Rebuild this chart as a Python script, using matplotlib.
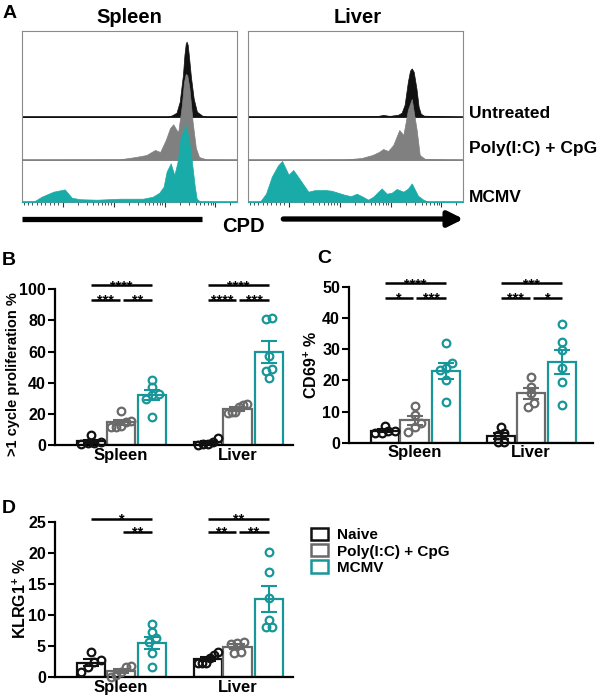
import numpy as np
import matplotlib
matplotlib.use('Agg')
import matplotlib.pyplot as plt
from matplotlib.patches import Patch

plt.rcParams['font.family'] = 'Liberation Sans'
plt.rcParams['font.weight'] = 'bold'
plt.rcParams['mathtext.fontset'] = 'custom'
plt.rcParams['mathtext.rm'] = 'Liberation Sans:bold'
plt.rcParams['mathtext.bf'] = 'Liberation Sans:bold'

W, H = 600, 699

BLACK = '#111111'
GREY = '#6a6a6a'
TEAL = '#17979a'
GREY_FILL = '#808080'
TEAL_FILL = '#19aba8'

groups = ['Naive', 'Poly(I:C) + CpG', 'MCMV']
tissues = ['Spleen', 'Liver']
rows = ['Untreated', 'Poly(I:C) + CpG', 'MCMV']

# ---- panel A: CPD histograms (x = position on CPD axis 0..1, y = cell count)
spl_untr_x = [0, 0.68, 0.70, 0.72, 0.735, 0.75, 0.757, 0.763, 0.767, 0.772, 0.778, 0.787, 0.80,
              0.815, 0.84, 0.86, 1.0]
spl_untr_y = [0, 0, 1.5, 4, 15, 42, 62, 73, 75, 72, 60, 40, 18, 5, 1, 0, 0]
spl_poly_x = [0, 0.45, 0.53, 0.58, 0.62, 0.644, 0.67, 0.69, 0.705, 0.72, 0.728, 0.745,
              0.755, 0.763, 0.77, 0.78, 0.795, 0.81, 0.825, 0.86, 1.0]
spl_poly_y = [0, 0.5, 3, 5, 10, 8, 20, 32, 35.7, 30, 28, 55, 78, 86, 85, 72, 38, 12, 3, 0.5, 0]
spl_mcmv_x = [0, 0.055, 0.093, 0.147, 0.2, 0.233, 0.27, 0.35, 0.457, 0.565, 0.61, 0.64, 0.66,
              0.674, 0.693, 0.71, 0.725, 0.74, 0.763, 0.778, 0.79, 0.805, 0.814, 0.83, 1.0]
spl_mcmv_y = [0, 0, 5, 10, 12.3, 4, 2.5, 2, 3, 3, 5, 9, 15, 30, 38.3, 26.7, 40, 65, 76.7, 62,
              43, 15, 3, 0, 0]

liv_untr_x = [0, 0.60, 0.63, 0.66, 0.70, 0.716, 0.73, 0.745, 0.755, 0.763, 0.772, 0.785, 0.795,
              0.805, 0.82, 1.0]
liv_untr_y = [0, 0.5, 1.8, 0.8, 2, 4, 12, 35, 46, 48.3, 45, 28, 10, 3, 1, 0]
liv_poly_x = [0, 0.45, 0.53, 0.58, 0.61, 0.63, 0.653, 0.677, 0.705, 0.724, 0.745, 0.763,
              0.786, 0.80, 0.825, 1.0]
liv_poly_y = [0, 0.5, 2, 5, 8, 11, 9, 15, 30, 25, 50, 61, 30, 5, 1, 0]
liv_mcmv_x = [0, 0.057, 0.085, 0.112, 0.14, 0.16, 0.19, 0.212, 0.25, 0.282, 0.31, 0.36, 0.39,
              0.42, 0.45, 0.48, 0.507, 0.535, 0.56, 0.584, 0.623, 0.647, 0.67, 0.693, 0.724,
              0.745, 0.763, 0.792, 0.817, 0.84, 1.0]
liv_mcmv_y = [0, 0, 8, 25, 36, 40.7, 27, 31.7, 20, 10, 11.5, 11.7, 11, 9, 7, 5.5, 8, 5, 2, 5,
              13.3, 8, 9, 12.7, 10, 13, 18.3, 6, 2, 0, 0]

# ---- panels B-D: per mouse values, order naive / poly / mcmv
prolif_spleen = [[6.2, 1.8, 1.5, 1.2, 0.8], [21.8, 15.2, 15.0, 11.8, 11.5, 12.2],
                 [41.8, 37.0, 32.8, 32.0, 29.3, 18.2]]
prolif_liver = [[4.7, 0.3, 0.5, 2.1, 0.6], [25.7, 26.2, 24.6, 21.4, 20.3, 21.0],
                [80.9, 81.4, 57.2, 48.6, 47.5, 43.3]]
cd69_spleen = [[5.5, 3.6, 3.0, 3.2, 3.7], [11.8, 8.8, 6.4, 5.1, 3.5],
               [31.8, 25.4, 23.8, 23.3, 20.1, 12.9]]
cd69_liver = [[5.1, 2.5, 3.0, 0.1, 0.3], [21.2, 17.9, 15.8, 12.6, 11.5],
              [38.0, 32.4, 29.7, 23.8, 19.6, 12.1]]
klrg1_spleen = [[4.0, 2.8, 2.4, 1.7, 0.9], [1.8, 1.6, 0.9, 0.4, 0.1],
                [8.6, 7.2, 6.3, 5.6, 3.9, 1.6]]
klrg1_liver = [[4.0, 3.6, 3.1, 2.3, 2.25, 2.3], [5.7, 5.5, 5.35, 3.9, 4.1],
               [20.2, 16.9, 12.7, 9.2, 8.1, 8.1]]

# significance: (group i, group j, label, level)
prolif_sig = [[(0, 1, '***', 0), (1, 2, '**', 0), (0, 2, '****', 1)],
              [(0, 1, '****', 0), (1, 2, '***', 0), (0, 2, '****', 1)]]
cd69_sig = [[(0, 1, '*', 0), (1, 2, '***', 0), (0, 2, '****', 1)],
            [(0, 1, '***', 0), (1, 2, '*', 0), (0, 2, '***', 1)]]
klrg1_sig = [[(1, 2, '**', 0), (0, 2, '*', 1)],
             [(0, 1, '**', 0), (1, 2, '**', 0), (0, 2, '**', 1)]]


def rect(l, t, r, b):
    return [l / W, 1 - b / H, (r - l) / W, (b - t) / H]


def swarm_offsets(vals, thr, step):
    # spread points that sit at about the same height, like a dot plot
    vals = np.asarray(vals)
    order = np.argsort(vals)
    offs = np.zeros(len(vals))
    clusters = []
    cur = [order[0]]
    for a, b in zip(order[:-1], order[1:]):
        if vals[b] - vals[a] < thr:
            cur.append(b)
        else:
            clusters.append(cur)
            cur = [b]
    clusters.append(cur)
    for c in clusters:
        k = len(c)
        if k > 1:
            s = min(step, 0.17 / (k - 1))
            offs[c] = (np.arange(k) - (k - 1) / 2) * s
    return offs


def hist_panel(ax, curves):
    offsets = [85, 41.7, 0]
    fills = [BLACK, GREY_FILL, TEAL_FILL]
    base_cols = [BLACK, '#777777', TEAL_FILL]
    for i, (x, y) in enumerate(curves):
        x = np.asarray(x)
        y = np.asarray(y)
        ax.plot([0, 1], [offsets[i], offsets[i]], color=base_cols[i], lw=1.1, zorder=2 * i + 1)
        ax.fill_between(x, offsets[i], offsets[i] + y, color=fills[i], lw=0.5, zorder=2 * i + 2)
    ax.set_xlim(0, 1)
    ax.set_ylim(0, 171)
    for s in ax.spines.values():
        s.set_color('#8a8a8a')
        s.set_linewidth(0.8)
    ax.set_yticks([])
    dec = [0.19, 0.43, 0.667, 0.9]
    minor = [d + 0.235 * np.log10(m) for d in dec for m in range(2, 10) if d + 0.235 * np.log10(m) < 1]
    lin = list(np.arange(0.01, 0.19, 0.02))
    ax.set_xticks(dec)
    ax.set_xticks(lin + minor, minor=True)
    ax.tick_params(axis='x', which='major', length=3.5, width=0.8, color='#333333', labelbottom=False)
    ax.tick_params(axis='x', which='minor', length=2, width=0.6, color='#333333')


def bar_panel(ax, spleen, liver, sigs, sig_y, ymax, ystep, xmax):
    offs = [-0.255, 0, 0.27]
    cols = [BLACK, GREY, TEAL]
    width = 0.243
    thr = ymax * 0.035
    for gi, tissue in enumerate([spleen, liver]):
        for k, vals in enumerate(tissue):
            xc = gi + offs[k]
            v = np.asarray(vals)
            m = v.mean()
            sem = v.std(ddof=1) / np.sqrt(len(v))
            ax.bar(xc, m, width=width, facecolor='white', edgecolor=cols[k], linewidth=1.6, zorder=2)
            ax.errorbar(xc, m, yerr=sem, color=cols[k], capsize=5.5, elinewidth=1.5,
                        capthick=1.5, zorder=3)
            ax.plot(xc + swarm_offsets(v, thr, 0.055), v, 'o', ms=5.5, mfc='none', mec=cols[k],
                    mew=1.6, zorder=4, clip_on=False)
        for i, j, txt, lev in sigs[gi]:
            x0 = gi + offs[i]
            x1 = gi + offs[j]
            if lev == 0:
                if i == 0:
                    x1 -= 0.01
                else:
                    x0 += 0.015
            y = sig_y[lev]
            ax.plot([x0, x1], [y, y], color='black', lw=1.8, clip_on=False, solid_capstyle='butt')
            ax.annotate(txt, xy=((x0 + x1) / 2, y), xytext=(0, -3.5), textcoords='offset points',
                        ha='center', va='baseline', fontsize=10.5, annotation_clip=False)
    ax.set_xlim(-0.564, xmax)
    ax.set_ylim(0, ymax)
    ax.set_yticks(np.arange(0, ymax + 0.1, ystep))
    ax.set_xticks([0, 1])
    ax.set_xticklabels(tissues, fontsize=12)
    for s in ['top', 'right']:
        ax.spines[s].set_visible(False)
    for s in ['left', 'bottom']:
        ax.spines[s].set_linewidth(1.6)
    ax.tick_params(axis='x', length=0, pad=2)
    ax.tick_params(axis='y', length=5, width=1.5, pad=1.5, labelsize=11.5)


fig = plt.figure(figsize=(W / 100, H / 100), dpi=100)

ax_s = fig.add_axes(rect(21.7, 30.7, 236.7, 201.7))
hist_panel(ax_s, [(spl_untr_x, spl_untr_y), (spl_poly_x, spl_poly_y), (spl_mcmv_x, spl_mcmv_y)])
ax_l = fig.add_axes(rect(247.7, 30.7, 462.7, 201.7))
hist_panel(ax_l, [(liv_untr_x, liv_untr_y), (liv_poly_x, liv_poly_y), (liv_mcmv_x, liv_mcmv_y)])

ax_b = fig.add_axes(rect(55, 289.3, 293, 445))
bar_panel(ax_b, prolif_spleen, prolif_liver, prolif_sig, (93.1, 102.6), 100, 20, 1.476)
ax_c = fig.add_axes(rect(349, 286.7, 593, 442.7))
bar_panel(ax_c, cd69_spleen, cd69_liver, cd69_sig, (46.5, 51.1), 50, 10, 1.535)
ax_d = fig.add_axes(rect(55, 521.7, 293, 677.3))
bar_panel(ax_d, klrg1_spleen, klrg1_liver, klrg1_sig, (23.4, 25.5), 25, 5, 1.476)

# overlay in pixel coordinates for labels and the CPD arrow
ov = fig.add_axes([0, 0, 1, 1], facecolor='none', zorder=10)
ov.set_xlim(0, W)
ov.set_ylim(H, 0)
ov.axis('off')

for letter, x, y in [('A', 3, 18.3), ('B', 2, 265), ('C', 317, 263), ('D', 2, 513)]:
    ov.text(x, y, letter, fontsize=14, ha='left', va='baseline')
ov.text(129.2, 23.3, 'Spleen', fontsize=14.5, ha='center', va='baseline')
ov.text(358, 23.3, 'Liver', fontsize=14.5, ha='center', va='baseline')
for lab, yb in zip(rows, [117.7, 153.3, 202.3]):
    ov.text(469.3, yb, lab, fontsize=12.5, ha='left', va='baseline')

ov.plot([21.7, 201.7], [219, 219], color='black', lw=3.8, solid_capstyle='butt')
ov.annotate('', xy=(463.5, 219), xytext=(283.3, 219),
            arrowprops=dict(arrowstyle='-|>,head_length=0.9,head_width=0.45', color='black',
                            lw=3.8, shrinkA=0, shrinkB=0))
ov.text(243.3, 231.7, 'CPD', fontsize=14.5, ha='center', va='baseline')

ov.text(13.5, 374, '>1 cycle proliferation %', rotation=90, ha='center', va='center', fontsize=10.5)
ov.text(311, 365, r'CD69$^{\mathbf{+}}$ %', rotation=90, ha='center', va='center', fontsize=11.5)
ov.text(20, 598, r'KLRG1$^{\mathbf{+}}$ %', rotation=90, ha='center', va='center', fontsize=11.5)

handles = [Patch(facecolor='white', edgecolor=c, linewidth=1.8) for c in [BLACK, GREY, TEAL]]
fig.legend(handles, groups, loc='upper left', bbox_to_anchor=(310.7 / W, 1 - 528 / H),
           frameon=False, borderpad=0, borderaxespad=0, handlelength=1.15, handleheight=0.85,
           handletextpad=0.6, labelspacing=0.12, fontsize=11)

fig.savefig('out.png', dpi=100)
